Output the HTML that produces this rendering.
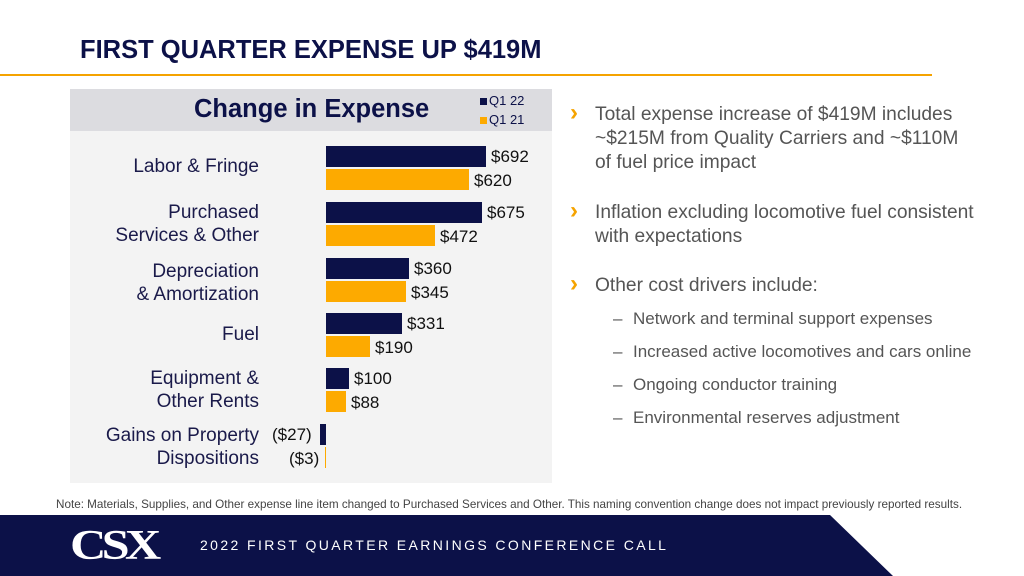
<!DOCTYPE html>
<html><head><style>
body{margin:0;width:1024px;height:576px;overflow:hidden;background:#fff;font-family:"Liberation Sans",Arial,sans-serif;position:relative}
.a{position:absolute}
.lab{position:absolute;right:765px;color:#1a1a4a;font-size:19px;text-align:right;line-height:23px}
.v{position:absolute;font-size:17px;color:#111}
.d{position:absolute;background:#0c1148;height:21px}
.o{position:absolute;background:#fdaa00;height:21px}
.b{position:absolute;left:566px;color:#555;font-size:19.2px;line-height:24px}
.b:before{content:"›";position:absolute;left:4px;top:-2px;color:#f5a300;font-weight:bold;font-size:24px}
.s{position:absolute;left:633px;color:#555;font-size:17px}
.s:before{content:"–";position:absolute;left:-20px}
</style></head><body>
<div class="a" style="left:80px;top:36px;font-size:25.5px;font-weight:bold;color:#0c1148">FIRST QUARTER EXPENSE UP $419M</div>
<div class="a" style="left:0;top:74px;width:932px;height:2px;background:#f5a300"></div>
<div class="a" style="left:70px;top:89px;width:482px;height:394px;background:#f3f3f3"></div>
<div class="a" style="left:70px;top:89px;width:482px;height:42px;background:#dcdce0"></div>
<div class="a" style="left:194px;top:95px;font-size:25.5px;font-weight:bold;color:#0c1148">Change in Expense</div>
<div class="a" style="left:480px;top:93px;font-size:13px;color:#0c1148"><span style="display:inline-block;width:7px;height:7px;background:#0c1148;margin-right:2px"></span>Q1 22</div>
<div class="a" style="left:480px;top:112px;font-size:13px;color:#0c1148"><span style="display:inline-block;width:7px;height:7px;background:#fdaa00;margin-right:2px"></span>Q1 21</div>

<div class="lab" style="top:155px">Labor &amp; Fringe</div>
<div class="lab" style="top:201px">Purchased<br>Services &amp; Other</div>
<div class="lab" style="top:260px">Depreciation<br>&amp; Amortization</div>
<div class="lab" style="top:323px">Fuel</div>
<div class="lab" style="top:367px">Equipment &amp;<br>Other Rents</div>
<div class="lab" style="top:424px">Gains on Property<br>Dispositions</div>

<div class="d" style="left:326px;top:146px;width:160px"></div><div class="v" style="left:491px;top:147px">$692</div>
<div class="o" style="left:326px;top:169px;width:143px"></div><div class="v" style="left:474px;top:171px">$620</div>
<div class="d" style="left:326px;top:202px;width:156px"></div><div class="v" style="left:487px;top:203px">$675</div>
<div class="o" style="left:326px;top:225px;width:109px"></div><div class="v" style="left:440px;top:227px">$472</div>
<div class="d" style="left:326px;top:258px;width:83px"></div><div class="v" style="left:414px;top:259px">$360</div>
<div class="o" style="left:326px;top:281px;width:80px"></div><div class="v" style="left:411px;top:283px">$345</div>
<div class="d" style="left:326px;top:313px;width:76px"></div><div class="v" style="left:407px;top:314px">$331</div>
<div class="o" style="left:326px;top:336px;width:44px"></div><div class="v" style="left:375px;top:338px">$190</div>
<div class="d" style="left:326px;top:368px;width:23px"></div><div class="v" style="left:354px;top:369px">$100</div>
<div class="o" style="left:326px;top:391px;width:20px"></div><div class="v" style="left:351px;top:393px">$88</div>
<div class="d" style="left:320px;top:424px;width:6px"></div><div class="v" style="left:272px;top:425px">($27)</div>
<div class="o" style="left:325px;top:447px;width:1px"></div><div class="v" style="left:289px;top:449px">($3)</div>

<div class="b" style="top:103px;padding-left:29px">Total expense increase of $419M includes<br>~$215M from Quality Carriers and ~$110M<br>of fuel price impact</div>
<div class="b" style="top:201px;padding-left:29px">Inflation excluding locomotive fuel consistent<br>with expectations</div>
<div class="b" style="top:274px;padding-left:29px">Other cost drivers include:</div>
<div class="s" style="top:309px">Network and terminal support expenses</div>
<div class="s" style="top:342px">Increased active locomotives and cars online</div>
<div class="s" style="top:375px">Ongoing conductor training</div>
<div class="s" style="top:408px">Environmental reserves adjustment</div>

<div class="a" style="left:56px;top:498px;font-size:11.7px;color:#444">Note: Materials, Supplies, and Other expense line item changed to Purchased Services and Other. This naming convention change does not impact previously reported results.</div>
<svg class="a" style="left:0;top:515px" width="1024" height="61"><polygon points="0,0 830,0 893,61 0,61" fill="#0c1148"/></svg>
<div class="a" style="left:70px;top:522px;font-family:'Liberation Serif',serif;font-weight:bold;font-size:42px;color:#fff;letter-spacing:-4px;transform:scaleX(1.2);transform-origin:left">CSX</div>
<div class="a" style="left:200px;top:537px;font-size:14px;color:#fff;letter-spacing:2.4px">2022 FIRST QUARTER EARNINGS CONFERENCE CALL</div>
</body></html>
